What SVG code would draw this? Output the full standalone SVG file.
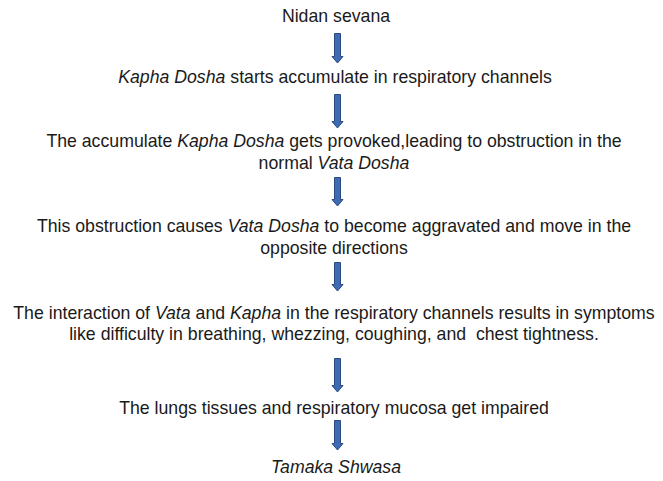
<svg xmlns="http://www.w3.org/2000/svg" width="663" height="481" viewBox="0 0 663 481">
<defs>
<style>
text{font-family:"Liberation Sans",Arial,sans-serif;font-size:17.7px;fill:#1a1a1a;text-anchor:middle}
.i{font-style:italic}
.arr{fill:#3f6bb5;stroke:#2a4a7f;stroke-width:1}
</style>
</defs>
<rect width="663" height="481" fill="#ffffff"/>
<g id="connectors">
<path class="arr" d="M334.5,33.5 H340.5 V56.5 H343 L337.5,63 L332,56.5 H334.5 Z"/>
<path class="arr" d="M334.5,94.5 H340.5 V121.5 H343 L337.5,128 L332,121.5 H334.5 Z"/>
<path class="arr" d="M334.5,177.5 H340.5 V199.5 H343 L337.5,206 L332,199.5 H334.5 Z"/>
<path class="arr" d="M334.5,262.5 H340.5 V284.5 H343 L337.5,291 L332,284.5 H334.5 Z"/>
<path class="arr" d="M334.5,358.5 H340.5 V385.5 H343 L337.5,392 L332,385.5 H334.5 Z"/>
<path class="arr" d="M334.5,420.5 H340.5 V443.5 H343 L337.5,450 L332,443.5 H334.5 Z"/>
</g>
<g id="n1"><text x="336" y="22">Nidan sevana</text></g>
<g id="n2"><text x="335" y="83"><tspan class="i">Kapha Dosha</tspan> starts accumulate in respiratory channels</text></g>
<g id="n3"><text x="334" y="147">The accumulate <tspan class="i">Kapha Dosha</tspan> gets provoked,leading to obstruction in the</text>
<text x="334" y="169">normal <tspan class="i">Vata Dosha</tspan></text></g>
<g id="n4"><text x="334" y="232">This obstruction causes <tspan class="i">Vata Dosha</tspan> to become aggravated and move in the</text>
<text x="334" y="254">opposite directions</text></g>
<g id="n5"><text x="334" y="319">The interaction of <tspan class="i">Vata</tspan> and <tspan class="i">Kapha</tspan> in the respiratory channels results in symptoms</text>
<text x="334" y="340" xml:space="preserve">like difficulty in breathing, whezzing, coughing, and  chest tightness.</text></g>
<g id="n6"><text x="334" y="414">The lungs tissues and respiratory mucosa get impaired</text></g>
<g id="n7"><text x="336" y="473" class="i">Tamaka Shwasa</text></g>
</svg>
